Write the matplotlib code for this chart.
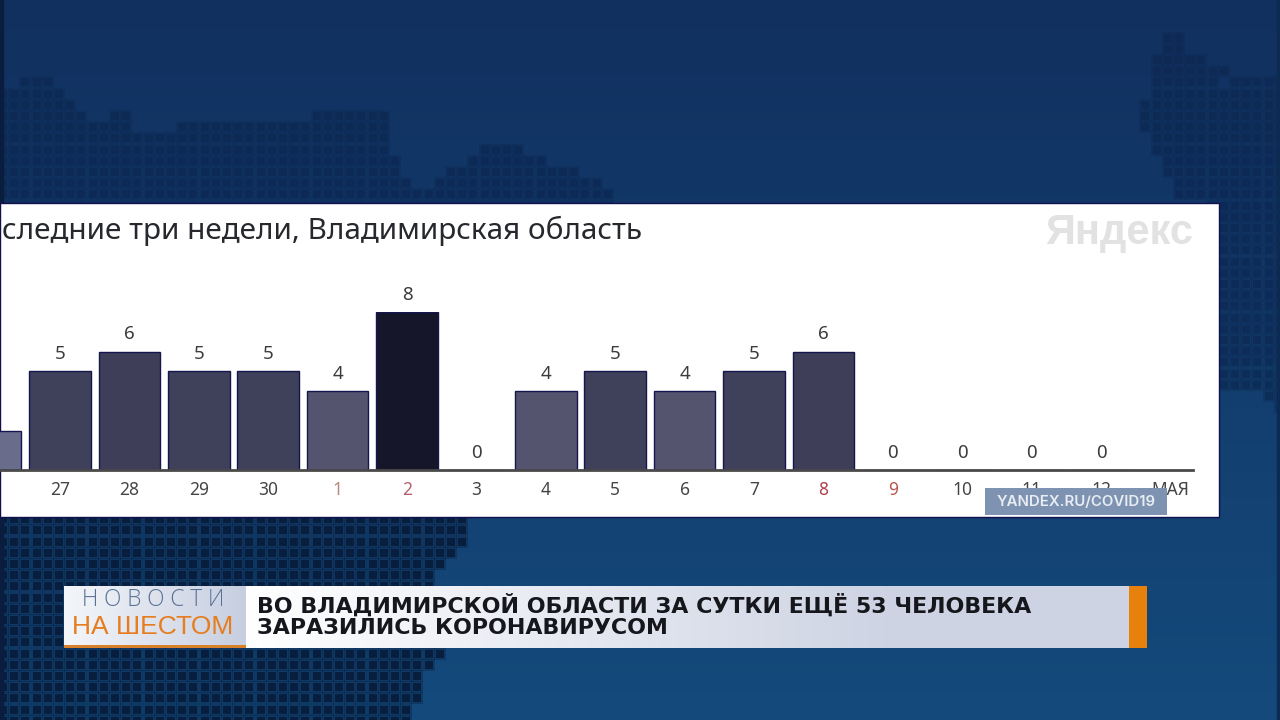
import numpy as np
import matplotlib
matplotlib.use('Agg')
import matplotlib.pyplot as plt

from matplotlib.colors import to_rgb
from matplotlib.patches import Rectangle
from matplotlib.path import Path

# Данные графика
days = ['26', '27', '28', '29', '30', '1', '2', '3', '4', '5', '6', '7', '8', '9', '10', '11', '12']
cases = [2, 5, 6, 5, 5, 4, 8, 0, 4, 5, 4, 5, 6, 0, 0, 0, 0]
month_label = 'МАЯ'
title_text = 'следние три недели, Владимирская область'
logo_text = 'Яндекс'
source_text = 'YANDEX.RU/COVID19'
banner_lines = ['ВО ВЛАДИМИРСКОЙ ОБЛАСТИ ЗА СУТКИ ЕЩЁ 53 ЧЕЛОВЕКА', 'ЗАРАЗИЛИСЬ КОРОНАВИРУСОМ']

W, H = 1280, 720
BAR_COLORS = {2: '#696c8b', 4: '#54546f', 5: '#3f4059', 6: '#3e3e58', 8: '#15162a'}
DAY_COLORS = {'1': '#b8897e', '2': '#b4616b', '8': '#b0404e', '9': '#b65a50'}

# Контуры карты на фоне
map_top = [(0, 90), (22, 86), (25, 80), (48, 80), (50, 90), (68, 93), (80, 110), (90, 124), (112, 124), (116, 113),
           (128, 113), (132, 124), (140, 135), (175, 135), (182, 124), (225, 124), (300, 124), (318, 113), (388, 113),
           (392, 150), (400, 165), (425, 195), (438, 190), (440, 170), (475, 160), (480, 148), (520, 148), (545, 160),
           (590, 175), (610, 195), (618, 210), (618, 300), (0, 300)]
map_right = [(1165, 32), (1184, 32), (1184, 55), (1207, 58), (1230, 70), (1222, 85), (1245, 78), (1285, 78),
             (1285, 412), (1272, 405), (1268, 395), (1248, 393), (1243, 385), (1210, 385), (1210, 200), (1176, 200),
             (1176, 188), (1164, 175), (1164, 158), (1150, 155), (1150, 132), (1140, 130), (1140, 103), (1152, 100),
             (1152, 50), (1165, 50)]
map_bottom = [(0, 510), (472, 510), (472, 528), (460, 548), (437, 570), (437, 650), (452, 650), (440, 662), (422, 682),
              (412, 725), (0, 725)]


def gradient(c1, c2, n=256):
    c1, c2 = np.array(to_rgb(c1)), np.array(to_rgb(c2))
    t = np.linspace(0, 1, n)[:, None]
    return c1 * (1 - t) + c2 * t


fig = plt.figure(figsize=(12.8, 7.2), dpi=100)

# Фон
bg = fig.add_axes([0, 0, 1, 1], zorder=0)
bg.set_xlim(0, W)
bg.set_ylim(H, 0)
bg.axis('off')
grad = gradient('#11305f', '#144a7c', 256)[:, None, :]
bg.imshow(grad, extent=(0, W, H, 0), aspect='auto', zorder=0)

# Точечная карта: сплошная подложка и точки поверх
gx, gy = np.meshgrid(np.arange(3, W + 6, 11.2), np.arange(4, H + 6, 11.2))
pts = np.column_stack([gx.ravel(), gy.ravel()])
for outline, color, a_fill, a_dot in [(map_top, '#0c2650', 0.3, 0.55),
                                      (map_right, '#0c2650', 0.3, 0.55),
                                      (map_bottom, '#081d3c', 0.35, 0.95)]:
    inside = pts[Path(outline).contains_points(pts)]
    bg.scatter(inside[:, 0], inside[:, 1], marker='s', s=66, color=color, alpha=a_fill, linewidths=0, zorder=1)
    bg.scatter(inside[:, 0], inside[:, 1], marker='s', s=26, color=color, alpha=a_dot, linewidths=0, zorder=1)

# Затемнение левого края кадра
bg.add_patch(Rectangle((0, 0), 3, H, color='#0a1d3f', zorder=2))
bg.add_patch(Rectangle((W - 3, 0), 3, H, color='#0d2a52', zorder=2))

# Белая панель
bg.add_patch(Rectangle((0, 203), 1219, 314, facecolor='white', edgecolor='#10104f', linewidth=1, zorder=3))

# График
ax = fig.add_axes([0, (H - 470) / H, 1193 / W, 158 / H], zorder=1)
ax.patch.set_alpha(0)
x = np.arange(len(days))
bars = ax.bar(x, cases, width=0.89, color=[BAR_COLORS.get(v, '#ffffff') for v in cases],
              edgecolor='#15154f', linewidth=1)
# первый столбик обрезан краем панели, его подпись не видна
value_labels = [''] + [str(v) for v in cases[1:]]
ax.bar_label(bars, labels=value_labels, padding=6, fontsize=13.5, color='#3a3d3a', family='Noto Sans')
for side in ['top', 'left', 'right']:
    ax.spines[side].set_visible(False)
ax.spines['bottom'].set_linewidth(2)
ax.spines['bottom'].set_color('#4a4a4a')
ax.set_yticks([])
ax.set_xticks(x[1:].tolist() + [len(days)])
ax.set_xticklabels(days[1:] + [month_label], fontsize=12.5, family='Noto Sans', color='#454545')
ax.tick_params(axis='x', length=0, pad=8)
for lab in ax.get_xticklabels():
    if lab.get_text() in DAY_COLORS:
        lab.set_color(DAY_COLORS[lab.get_text()])
ax.set_xlim(1 - 60 / 69.4, 1 + 1133 / 69.4)
ax.set_ylim(0, 8)

# Верхний слой: подписи, плашки
top = fig.add_axes([0, 0, 1, 1], zorder=2)
top.axis('off')
top.patch.set_alpha(0)

top.text(2, 231, title_text, fontsize=21.4, family='Noto Sans', color='#26282e', va='center', ha='left')
top.text(1193, 233, logo_text, fontsize=30, family='Liberation Sans', weight='bold',
         color='#e2e2e2', va='center', ha='right')

top.add_patch(Rectangle((985, 488), 182, 27, facecolor='#7d93b1', edgecolor='none', zorder=3))
top.text(1076, 502, source_text, fontsize=10.8, family='Inter', weight='semibold', color='#e8edf3',
         va='center', ha='center', zorder=4)

# Плашка новостей
top.imshow(gradient('#f4f6fa', '#c6cee0', 256).reshape(1, 256, 3), extent=(64, 246, 648, 586), aspect='auto', zorder=3)
top.imshow(gradient('#ffffff', '#cdd3e3', 256).reshape(1, 256, 3), extent=(246, 900, 648, 586), aspect='auto', zorder=3)
top.add_patch(Rectangle((900, 586), 229, 62, facecolor='#cdd3e3', edgecolor='none', zorder=3))
top.add_patch(Rectangle((1129, 586), 18, 62, facecolor='#e8800c', edgecolor='none', zorder=4))
top.add_patch(Rectangle((64, 645), 182, 3, facecolor='#d9802a', edgecolor='none', zorder=4))
top.set_xlim(0, W)
top.set_ylim(H, 0)

top.text(153, 600, 'Н О В О С Т И', fontsize=16.3, family='Open Sans', weight='light', color='#5a7196',
         va='center', ha='center', zorder=5)
top.text(152.5, 627, 'НА ШЕСТОМ', fontsize=19, family='Liberation Sans', color='#e67d1e',
         va='center', ha='center', zorder=5)
top.text(257, 605, banner_lines[0], fontsize=15.9, family='DejaVu Sans', weight='bold', color='#15171c',
         va='center', ha='left', zorder=5)
top.text(257, 628, banner_lines[1], fontsize=15.9, family='DejaVu Sans', weight='bold', color='#15171c',
         va='center', ha='left', zorder=5)

fig.savefig('out.png', dpi=100)
